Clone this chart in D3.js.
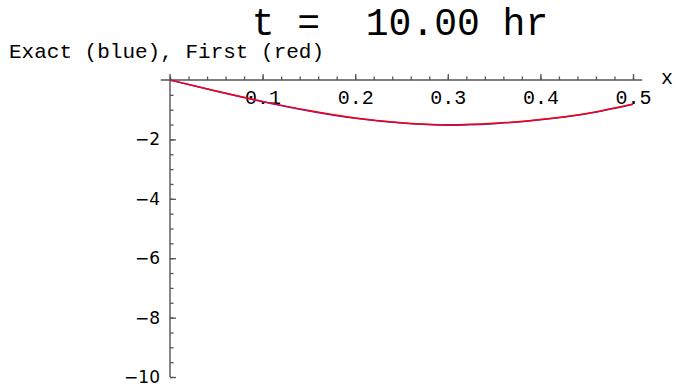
<!DOCTYPE html>
<html>
<head>
<meta charset="utf-8">
<script src="https://cdn.jsdelivr.net/npm/d3@7"></script>
<style>
  body { margin: 0; background: #fff; }
  svg { display: block; }
  text { white-space: pre; }
</style>
</head>
<body>
<script>
// values
var titleText = "t =  10.00 hr";
var subtitleText = "Exact (blue), First (red)";
var xValues = [0, 0.05, 0.1, 0.15, 0.2, 0.25, 0.3, 0.35, 0.4, 0.45, 0.5];
var exactValues = [0, -0.38, -0.73, -1.04, -1.29, -1.45, -1.52, -1.47, -1.34, -1.14, -0.82];
var firstValues = [0, -0.37, -0.72, -1.03, -1.28, -1.44, -1.51, -1.46, -1.33, -1.13, -0.81];
var xTickLabels = [0.1, 0.2, 0.3, 0.4, 0.5];
var yTickLabels = [-2, -4, -6, -8, -10];

var width = 678, height = 386;
var mono = "'Courier New', Courier, 'Liberation Mono', monospace";
var axisColor = "#555";

var svg = d3.select("body").append("svg")
    .attr("width", width)
    .attr("height", height);

var x = d3.scaleLinear().domain([0, 0.5]).range([170, 633]);
var y = d3.scaleLinear().domain([-10, 0]).range([377, 80]);

// title + subtitle
svg.append("text")
    .attr("x", 400)
    .attr("y", 35)
    .attr("text-anchor", "middle")
    .style("font-family", mono)
    .style("font-size", "38px")
    .text(titleText);

svg.append("text")
    .attr("x", 9)
    .attr("y", 58)
    .style("font-family", mono)
    .style("font-size", "21px")
    .text(subtitleText);

// axis lines (a little longer than the data range, like the original)
svg.append("line")
    .attr("x1", x(-0.01)).attr("x2", x(0.51))
    .attr("y1", y(0)).attr("y2", y(0))
    .attr("stroke", axisColor).attr("stroke-width", 1.4);
svg.append("line")
    .attr("x1", x(0)).attr("x2", x(0))
    .attr("y1", y(0.2)).attr("y2", y(-10))
    .attr("stroke", axisColor).attr("stroke-width", 1.4);

// x ticks: minor then major with labels
var xMinor = d3.range(0, 0.5001, 0.02);
var xMinorAxis = d3.axisBottom(x).tickValues(xMinor).tickSizeInner(-3.5).tickSizeOuter(0).tickFormat("");
var gxm = svg.append("g").attr("transform", "translate(0," + y(0) + ")").call(xMinorAxis);

var xAxis = d3.axisBottom(x).tickValues(xTickLabels).tickSizeInner(-6).tickSizeOuter(0)
    .tickPadding(10).tickFormat(d3.format(".1f"));
var gx = svg.append("g").attr("transform", "translate(0," + y(0) + ")").call(xAxis);
gx.selectAll("text")
    .style("font-family", mono)
    .style("font-size", "20px")
    .attr("fill", "#000");

// y ticks
var yMinor = d3.range(-10, 0.001, 0.5);
var yMinorAxis = d3.axisLeft(y).tickValues(yMinor).tickSizeInner(-3.5).tickSizeOuter(0).tickFormat("");
var gym = svg.append("g").attr("transform", "translate(" + x(0) + ",0)").call(yMinorAxis);

var yAxis = d3.axisLeft(y).tickValues(yTickLabels).tickSizeInner(-6).tickSizeOuter(0)
    .tickPadding(10).tickFormat(d3.format("d"));
var gy = svg.append("g").attr("transform", "translate(" + x(0) + ",0)").call(yAxis);
gy.selectAll("text")
    .style("font-family", "'DejaVu Sans', sans-serif")
    .style("font-size", "17px")
    .attr("fill", "#000");

[gxm, gx, gym, gy].forEach(function (g) {
    g.select(".domain").remove();
    g.selectAll(".tick line").attr("stroke", axisColor).attr("stroke-width", 1.3);
});

// axis name
svg.append("text")
    .attr("x", 661)
    .attr("y", 84)
    .style("font-family", mono)
    .style("font-size", "20px")
    .text("x");

// curves
var line = d3.line()
    .x(function (d) { return x(d[0]); })
    .y(function (d) { return y(d[1]); })
    .curve(d3.curveMonotoneX);

svg.append("path")
    .datum(d3.zip(xValues, exactValues))
    .attr("d", line)
    .attr("fill", "none")
    .attr("stroke", "#3030ff")
    .attr("stroke-width", 1.5);

svg.append("path")
    .datum(d3.zip(xValues, firstValues))
    .attr("d", line)
    .attr("fill", "none")
    .attr("stroke", "#ff0000")
    .attr("stroke-width", 1.5);
</script>
</body>
</html>
